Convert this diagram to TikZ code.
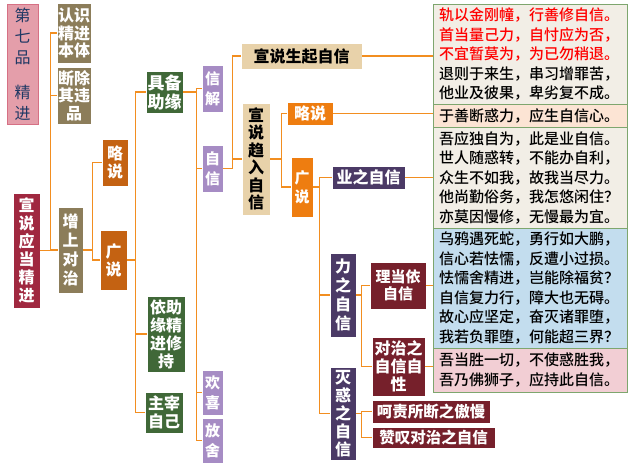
\documentclass[tikz,border=0pt]{standalone}
\usepackage{fontspec}
\newfontfamily\cjk{Noto Sans CJK SC}
\newfontfamily\cjkm{Noto Sans CJK SC Medium}
\usetikzlibrary{shadows}
\definecolor{titlepink}{RGB}{228,158,170}
\definecolor{titleedge}{RGB}{214,112,132}
\definecolor{titlenavy}{RGB}{31,56,100}
\definecolor{crimson}{RGB}{160,40,64}
\definecolor{olive}{RGB}{140,125,90}
\definecolor{rust}{RGB}{196,98,18}
\definecolor{leaf}{RGB}{64,104,56}
\definecolor{lilac}{RGB}{166,140,196}
\definecolor{tan}{RGB}{232,210,170}
\definecolor{amber}{RGB}{238,125,16}
\definecolor{plum}{RGB}{75,58,102}
\definecolor{maroon}{RGB}{118,32,43}
\definecolor{linkorange}{RGB}{242,142,32}
\definecolor{versegreen}{RGB}{126,166,110}
\definecolor{cream}{RGB}{242,238,230}
\definecolor{peach}{RGB}{252,228,212}
\definecolor{skyblue}{RGB}{195,221,238}
\definecolor{rose}{RGB}{242,206,212}

\begin{document}
\begin{tikzpicture}[x=1pt,y=-1pt,
  lbl/.style={draw=white,line width=0.8pt,inner sep=0pt,align=center,text=white,
    font=\cjk\bfseries\fontsize{16}{18}\selectfont,
    drop shadow={shadow xshift=1.2pt,shadow yshift=-1.2pt,opacity=0.3}},
  verse/.style={draw=versegreen,line width=0.8pt,inner sep=0pt,minimum width=194,
    text width=182,align=left,font=\cjkm\fontsize{15}{19.5}\selectfont},
  link/.style={draw=linkorange,line width=1.6pt}]
  \useasboundingbox (0,0) rectangle (628,470);
  \node[lbl,fill=titlepink,draw=titleedge,text=titlenavy,font=\cjk\fontsize{16}{21}\selectfont,
    minimum width=31,minimum height=120] (pin) at (22.5,64) {第\\七\\品\\[14pt]精\\进};
  \node[lbl,fill=crimson,minimum width=27,minimum height=115] (xuanshuo) at (26.5,250.5) {宣\\说\\应\\当\\精\\进};
  \node[lbl,fill=olive,minimum width=34,minimum height=60,font=\cjk\bfseries\fontsize{16}{17.5}\selectfont] (renshi) at (74,33) {认识\\精进\\本体};
  \node[lbl,fill=olive,minimum width=34,minimum height=57,font=\cjk\bfseries\fontsize{16}{17.5}\selectfont] (duanchu) at (74,95.5) {断除\\其违\\品};
  \node[lbl,fill=olive,minimum width=25,minimum height=86,font=\cjk\bfseries\fontsize{16}{19}\selectfont] (zengshang) at (70.5,250) {增\\上\\对\\治};
  \node[lbl,fill=rust,minimum width=26,minimum height=47] (lue) at (115,162.5) {略\\说};
  \node[lbl,fill=rust,minimum width=27,minimum height=60] (guang) at (113.5,260) {广\\说};
  \node[lbl,fill=leaf,minimum width=37,minimum height=42,font=\cjk\bfseries\fontsize{17}{19}\selectfont] (jubei) at (164.5,92) {具备\\助缘};
  \node[lbl,fill=leaf,minimum width=38,minimum height=76] (yizhu) at (166,334) {依助\\缘精\\进修\\持};
  \node[lbl,fill=leaf,minimum width=38,minimum height=41] (zhuzai) at (164,412.5) {主宰\\自己};
  \node[lbl,fill=lilac,minimum width=21,minimum height=47,font=\cjk\bfseries\fontsize{15}{20}\selectfont] (xinjie) at (212.5,88.5) {信\\解};
  \node[lbl,fill=lilac,minimum width=21,minimum height=47,font=\cjk\bfseries\fontsize{15}{20}\selectfont] (zixin) at (212.5,168.5) {自\\信};
  \node[lbl,fill=lilac,minimum width=21,minimum height=45,font=\cjk\bfseries\fontsize{15}{20}\selectfont] (huanxi) at (212.5,392.5) {欢\\喜};
  \node[lbl,fill=lilac,minimum width=21,minimum height=45,font=\cjk\bfseries\fontsize{15}{20}\selectfont] (fangshe) at (212.5,440.5) {放\\舍};
  \node[lbl,fill=tan,text=black,minimum width=121,minimum height=26] (shengqi) at (301.5,56) {宣说生起自信};
  \node[lbl,fill=tan,text=black,minimum width=28,minimum height=112,font=\cjk\bfseries\fontsize{16}{17.5}\selectfont] (quru) at (256,159) {宣\\说\\趋\\入\\自\\信};
  \node[lbl,fill=amber,minimum width=46,minimum height=23] (lueb) at (310,113.5) {略说};
  \node[lbl,fill=amber,minimum width=22,minimum height=60,font=\cjk\bfseries\fontsize{15}{19}\selectfont] (guangb) at (302,187) {广\\说};
  \node[lbl,fill=plum,minimum width=73,minimum height=23] (yezhi) at (368.5,177.5) {业之自信};
  \node[lbl,fill=plum,minimum width=26,minimum height=84,font=\cjk\bfseries\fontsize{16}{19}\selectfont] (lizhi) at (343,295) {力\\之\\自\\信};
  \node[lbl,fill=plum,minimum width=26,minimum height=93] (miehuo) at (343,413.5) {灭\\惑\\之\\自\\信};
  \node[lbl,fill=maroon,minimum width=56,minimum height=47,font=\cjk\bfseries\fontsize{15}{16.5}\selectfont] (lidang) at (398,285.5) {理当依\\自信};
  \node[lbl,fill=maroon,minimum width=53,minimum height=59] (duizhi) at (398.5,366.5) {对治之\\自信自\\性};
  \node[lbl,fill=maroon,minimum width=118,minimum height=23,font=\cjk\bfseries\fontsize{15.5}{18}\selectfont] (hezhe) at (431,411.5) {呵责所断之傲慢};
  \node[lbl,fill=maroon,minimum width=123,minimum height=21,font=\cjk\bfseries\fontsize{15.5}{18}\selectfont] (zantan) at (433.5,437.5) {赞叹对治之自信};
  \node[verse,fill=cream,minimum height=100] (jiao) at (530,54) {\color{red}轨以金刚幢，行善修自信。\\首当量己力，自忖应为否，\\不宜暂莫为，为已勿稍退。\\\color{black}退则于来生，串习增罪苦，\\他业及彼果，卑劣复不成。};
  \node[verse,fill=peach,minimum height=23] (shan) at (530,115.5) {于善断惑力，应生自信心。};
  \node[verse,fill=cream,minimum height=101] (wuying) at (530,177.5) {吾应独自为，此是业自信。\\世人随惑转，不能办自利，\\众生不如我，故我当尽力。\\他尚勤俗务，我怎悠闲住？\\亦莫因慢修，无慢最为宜。};
  \node[verse,fill=skyblue,minimum height=120] (wuya) at (530,288) {乌鸦遇死蛇，勇行如大鹏，\\信心若怯懦，反遭小过损。\\怯懦舍精进，岂能除福贫？\\自信复力行，障大也无碍。\\故心应坚定，奋灭诸罪堕，\\我若负罪堕，何能超三界？};
  \node[verse,fill=rose,minimum height=44] (sheng) at (530,370) {吾当胜一切，不使惑胜我，\\吾乃佛狮子，应持此自信。};
  \foreach \c in {renshi,duanchu,zengshang}
    \draw[link] (xuanshuo.east) -- ++(10,0) |- (\c.west);
  \foreach \c in {lue,guang}
    \draw[link] (zengshang.east) -- ++(9,0) |- (\c.west);
  \foreach \c in {jubei,yizhu,zhuzai}
    \draw[link] (guang.east) -- ++(8,0) |- (\c.west);
  \foreach \c in {xinjie,zixin,huanxi,fangshe}
    \draw[link] (jubei.east) -- ++(13,0) |- (\c.west);
  \foreach \c in {shengqi,quru}
    \draw[link] (zixin.east) -- ++(9,0) |- (\c.west);
  \foreach \c in {lueb,guangb}
    \draw[link] (quru.east) -- ++(11,0) |- (\c.west);
  \foreach \c in {yezhi,lizhi,miehuo}
    \draw[link] (guangb.east) -- ++(6,0) |- (\c.west);
  \foreach \c in {lidang,duizhi}
    \draw[link] (lizhi.east) -- ++(5,0) |- (\c.west);
  \foreach \c in {hezhe,zantan}
    \draw[link] (miehuo.east) -- ++(5,0) |- (\c.west);
  \draw[link] (shengqi.east) -- (shengqi.east -| jiao.west);
  \draw[link] (lueb.east) -- (lueb.east -| shan.west);
  \draw[link] (yezhi.east) -- (yezhi.east -| wuying.west);
  \draw[link] (lidang.east) -- (lidang.east -| wuya.west);
  \draw[link] (duizhi.east) -- (duizhi.east -| sheng.west);
\end{tikzpicture}
\end{document}
